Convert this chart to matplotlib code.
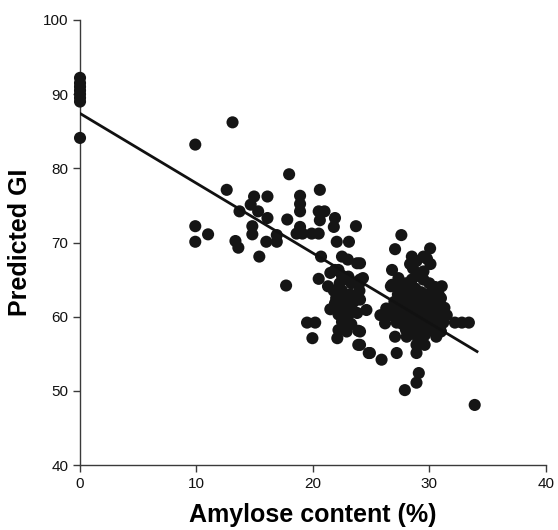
import matplotlib.pyplot as plt

plt.rcParams['font.family'] = ['Liberation Sans', 'DejaVu Sans']

# amylose content (%) and predicted GI
amylose = [
    0, 0, 0, 0, 0, 0, 0, 0,
    9.9, 13.1, 12.6, 9.9, 11.0, 9.9, 13.35, 13.6, 13.7, 14.66, 14.95, 16.1,
    15.3, 16.1, 14.8, 14.8, 16.0, 15.4, 16.9, 16.9,
    17.96, 20.6, 18.9, 18.9, 18.9, 20.5, 21.0, 20.6, 21.9, 21.8, 23.7, 17.8,
    18.9, 18.6, 19.1, 19.9, 20.5, 22.05, 23.1, 20.7, 22.5, 23.0, 23.8, 21.9,
    17.7, 20.5, 19.5, 20.2, 19.96, 21.3, 21.5, 22.2, 22.9, 22.1, 23.9, 23.9,
    24.8, 24.05, 24.6,
    21.5, 22.2, 23.05, 24.05, 22.5, 23.0, 22.3, 23.3, 21.8, 22.5, 23.2, 22.0,
    22.8, 23.5, 21.9, 22.5, 23.2, 22.2, 23.0, 23.8, 22.5, 23.3, 24.0, 24.0,
    24.9, 25.9, 24.05, 24.05, 27.2, 28.9, 29.1, 28.9, 27.9, 33.9,
    27.6, 27.06, 30.07, 31.07, 32.2, 32.8, 33.4, 26.8, 26.8, 27.35, 26.3, 25.8,
    26.2, 27.06, 28.06, 28.9, 29.6, 30.6, 24.05, 24.3,
    28.5, 29.5, 30.1, 28.35, 29.5, 28.9, 29.8, 28.6, 26.7,
    27.5, 28.0, 28.5, 29.0, 29.5, 30.0, 30.5,
    27.3, 27.8, 28.3, 28.8, 29.3, 29.8, 30.3, 30.8,
    27.0, 27.5, 28.0, 28.5, 29.0, 29.5, 30.0, 30.5, 31.0,
    26.8, 27.3, 27.8, 28.3, 28.8, 29.3, 29.8, 30.3, 30.8, 31.3,
    26.5, 27.0, 27.5, 28.0, 28.5, 29.0, 29.5, 30.0, 30.5, 31.0, 31.5,
    27.2, 27.7, 28.2, 28.7, 29.2, 29.7, 30.2, 30.7, 31.2,
    28.0, 28.6, 29.2, 29.8, 30.4, 31.0,
    29.0, 29.6,
]
gi = [
    84.1, 89.0, 89.5, 90.0, 90.5, 91.0, 91.5, 92.2,
    83.2, 86.2, 77.1, 72.2, 71.1, 70.1, 70.2, 69.3, 74.2, 75.1, 76.2, 76.2,
    74.2, 73.3, 72.2, 71.1, 70.1, 68.1, 71.0, 70.1,
    79.2, 77.1, 76.3, 75.2, 74.2, 74.2, 74.2, 73.0, 73.3, 72.1, 72.2, 73.1,
    72.1, 71.2, 71.2, 71.2, 71.2, 70.1, 70.1, 68.1, 68.1, 67.7, 67.2, 66.3,
    64.2, 65.1, 59.2, 59.2, 57.1, 64.1, 61.0, 58.2, 58.0, 57.1, 58.1, 56.2,
    55.1, 62.3, 60.9,
    65.9, 66.3, 65.4, 65.0, 65.5, 65.0, 64.5, 64.5, 63.5, 63.5, 63.0, 62.5,
    62.2, 62.0, 61.8, 61.2, 61.0, 60.3, 60.0, 60.5, 59.3, 59.0, 64.5, 63.5,
    55.1, 54.2, 58.0, 56.2, 55.1, 55.1, 52.4, 51.1, 50.1, 48.1,
    71.0, 69.1, 69.2, 64.1, 59.2, 59.2, 59.2, 66.3, 64.3, 65.2, 61.1, 60.2,
    59.1, 57.3, 57.3, 56.2, 56.2, 57.3, 67.2, 65.2,
    68.1, 68.1, 67.1, 67.1, 66.1, 67.5, 67.8, 66.5, 64.1,
    64.0, 64.5, 65.0, 65.5, 65.0, 64.5, 64.0,
    63.0, 63.2, 63.5, 63.8, 63.3, 63.0, 63.5, 63.0,
    62.0, 62.3, 62.0, 62.5, 62.2, 62.0, 62.3, 62.0, 62.5,
    61.0, 61.3, 61.0, 61.4, 61.0, 61.3, 61.0, 61.4, 61.0, 61.2,
    60.2, 60.0, 60.3, 60.0, 60.4, 60.0, 60.3, 60.0, 60.3, 60.0, 60.2,
    59.2, 59.0, 59.3, 59.0, 59.3, 59.0, 59.3, 59.0, 59.2,
    58.2, 58.0, 58.3, 58.0, 58.2, 58.0,
    57.2, 57.5,
]
# fitted trend line end points
fit_x = [0, 34.1]
fit_y = [87.4, 55.3]

fig = plt.figure(figsize=(5.58, 5.30), dpi=100)
ax = fig.add_axes([0.1434, 0.1226, 0.8346, 0.8397])

ax.scatter(amylose, gi, s=76, color='#151515', edgecolors='none', zorder=3,
           clip_on=False)
ax.plot(fit_x, fit_y, color='#111111', linewidth=2.0, zorder=4)

ax.set_xlim(0, 40)
ax.set_ylim(40, 100)
ax.set_xticks([0, 10, 20, 30, 40])
ax.set_yticks([40, 50, 60, 70, 80, 90, 100])

for side in ['top', 'right']:
    ax.spines[side].set_visible(False)
for side in ['left', 'bottom']:
    ax.spines[side].set_color('#3a3a3a')
    ax.spines[side].set_linewidth(1.0)
ax.tick_params(direction='out', length=5, width=1, color='#3a3a3a',
               labelsize=11, labelcolor='#111111')

ax.set_xlabel('Amylose content (%)', fontsize=18, fontweight='bold', labelpad=9)
ax.set_ylabel('Predicted GI', fontsize=18, fontweight='bold', labelpad=8)

fig.savefig('out.png', dpi=100)
